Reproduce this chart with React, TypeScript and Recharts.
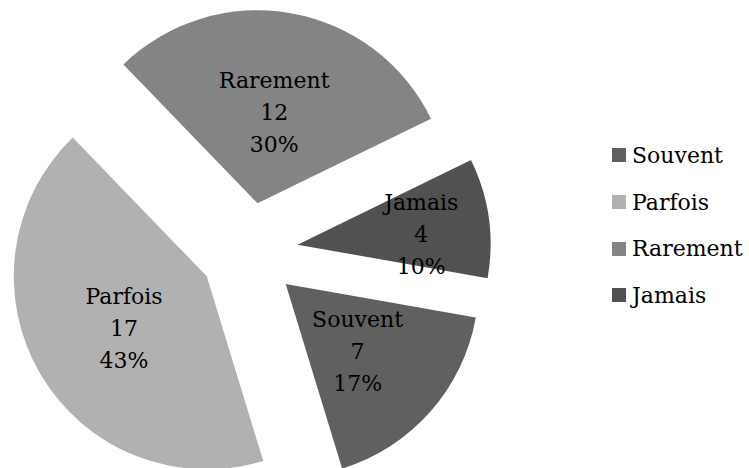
import { Cell, Legend, Pie, PieChart } from "recharts";

const categories = ["Souvent", "Parfois", "Rarement", "Jamais"];
const counts = [7, 17, 12, 4];
const percentLabels = ["17%", "43%", "30%", "10%"];
const colors = ["#606060", "#b1b1b1", "#848484", "#515151"];

const data = categories.map((name, i) => ({ name, value: counts[i] }));

const FONT = "'DejaVu Serif', serif";
const CX = 249;
const CY = 251.5;
const RADIUS = 193;
const EXPLODE = 49;
const START = -10;
const RAD = Math.PI / 180;

const total = counts.reduce((a, b) => a + b, 0);

// mid angle of each slice (clockwise from START), used for the explosion offset
const midAngles = counts.map((_, i) => {
  const before = counts.slice(0, i).reduce((a, b) => a + b, 0);
  return START - ((before + counts[i] / 2) / total) * 360;
});

function makeLabel(own: number) {
  return (props: any) => {
    const { cx, cy, midAngle, index, percent } = props;
    if (index !== own) return null;
    const r = percent < 0.15 ? 125 : 96;
    const x = cx + r * Math.cos(-midAngle * RAD);
    const y = cy + r * Math.sin(-midAngle * RAD) + (own === 3 ? 4 : 0) + 3;
    return (
      <text
        x={x}
        y={y}
        textAnchor="middle"
        fill="#000"
        fontFamily={FONT}
        fontSize={22}
      >
        <tspan x={x} dy={-32 + 8}>
          {categories[own]}
        </tspan>
        <tspan x={x} dy={32}>
          {counts[own]}
        </tspan>
        <tspan x={x} dy={32}>
          {percentLabels[own]}
        </tspan>
      </text>
    );
  };
}

function LegendBox(props: any) {
  const names = new Set((props.payload || []).map((p: any) => p.value));
  const items = categories.filter((c) => names.has(c));
  return (
    <div style={{ fontFamily: FONT, fontSize: 22, color: "#000" }}>
      {items.map((name) => {
        const i = categories.indexOf(name);
        return (
          <div
            key={name}
            style={{ height: 46.7, display: "flex", alignItems: "center" }}
          >
            <span
              style={{
                display: "inline-block",
                width: 14,
                height: 14,
                background: colors[i],
                marginRight: 6,
              }}
            />
            <span>{name}</span>
          </div>
        );
      })}
    </div>
  );
}

export default function App() {
  return (
    <div>
      <style>{`body{margin:0}`}</style>
      <PieChart
        width={749}
        height={468}
        margin={{ top: 0, right: 0, bottom: 0, left: 0 }}
      >
        {categories.map((_, own) => (
          <Pie
            key={own}
            data={data}
            dataKey="value"
            nameKey="name"
            cx={CX + EXPLODE * Math.cos(midAngles[own] * RAD)}
            cy={CY - EXPLODE * Math.sin(midAngles[own] * RAD)}
            outerRadius={RADIUS}
            startAngle={START}
            endAngle={START - 360}
            stroke="none"
            label={makeLabel(own)}
            labelLine={false}
            isAnimationActive={false}
            legendType="square"
          >
            {data.map((d, i) => (
              <Cell
                key={d.name}
                fill={i === own ? colors[i] : "transparent"}
                name={d.name}
              />
            ))}
          </Pie>
        ))}
        <Legend
          layout="vertical"
          align="right"
          verticalAlign="top"
          content={LegendBox}
          wrapperStyle={{ left: 612, top: 132, width: 140 }}
        />
      </PieChart>
    </div>
  );
}
